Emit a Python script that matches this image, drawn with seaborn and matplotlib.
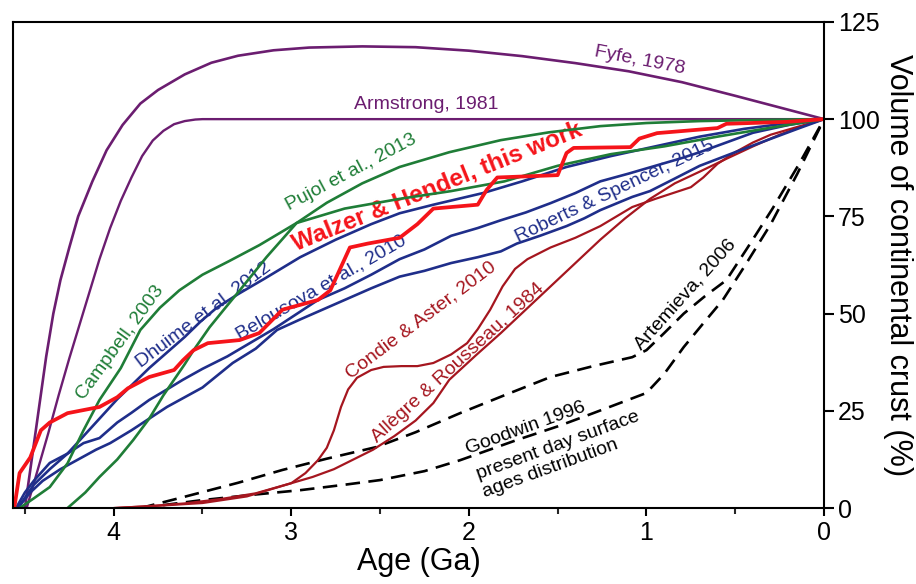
import matplotlib
matplotlib.use("Agg")
import matplotlib.pyplot as plt
from matplotlib.ticker import MultipleLocator
import seaborn as sns

# ---------------- data (age in Ga, volume in % of present crust) ----------------
fyfe_age = [4.50, 4.46, 4.42, 4.38, 4.34, 4.30, 4.25, 4.20, 4.12, 4.04, 3.95, 3.85, 3.75, 3.60,
            3.45, 3.30, 3.10, 2.90, 2.60, 2.30, 2.00, 1.70, 1.40, 1.10, 0.80, 0.50, 0.25, 0.0]
fyfe_vol = [0, 13, 26, 39, 50, 58.6, 67, 75, 84, 92, 98.5, 104, 107.5, 111.5,
            114.5, 116.3, 117.7, 118.4, 118.7, 118.5, 117.6, 116.2, 114.4, 112.3, 109.5, 106, 103, 100]

armstrong_age = [4.49, 4.43, 4.37, 4.31, 4.25, 4.20, 4.14, 4.08, 4.02, 3.96, 3.90, 3.84, 3.78,
                 3.72, 3.66, 3.60, 3.54, 3.50, 0.0]
armstrong_vol = [0, 9.5, 19, 29, 38.5, 46, 55, 64, 72, 79, 85, 90.5, 94.5,
                 97, 98.7, 99.5, 99.9, 100, 100]

campbell_age = [4.53, 4.45, 4.36, 4.26, 4.17, 4.08, 3.96, 3.85, 3.74, 3.63, 3.50, 3.35, 3.18,
                2.97, 2.70, 2.39, 2.10, 1.80, 1.50, 1.20, 0.90, 0.60, 0.30, 0.0]
campbell_vol = [0, 2.5, 5.4, 11.5, 20, 27.8, 36, 45.8, 51.5, 56, 60, 63.5, 67.6,
                73.3, 77, 79.5, 81.5, 84, 88, 91, 93, 95.5, 97.8, 100]

pujol_age = [4.26, 4.16, 4.08, 3.98, 3.89, 3.80, 3.72, 3.66, 3.60, 3.55, 3.46, 3.38, 3.29,
             3.14, 2.97, 2.80, 2.60, 2.39, 2.11, 1.82, 1.55, 1.26, 1.00, 0.70, 0.35, 0.0]
pujol_vol = [0, 4, 8, 12.5, 17.5, 23, 29, 33, 37, 40.6, 46.5, 51, 56,
             64.5, 73.3, 78.5, 83.5, 87.7, 91.5, 94.6, 96.6, 98.2, 99, 99.5, 99.8, 100]

dhuime_age = [4.54, 4.45, 4.36, 4.26, 4.17, 4.08, 3.98, 3.89, 3.80, 3.70, 3.60, 3.51, 3.42,
              3.30, 3.15, 2.95, 2.75, 2.55, 2.39, 2.20, 1.92, 1.70, 1.45, 1.20, 0.95, 0.70,
              0.45, 0.20, 0.0]
dhuime_vol = [0, 6, 10, 14, 18.5, 23, 28, 32, 36, 40, 44, 48, 51.5,
              55, 59, 64.5, 69, 73, 75.8, 78, 81, 84, 87.7, 90.5, 93, 95.5,
              97.5, 99, 100]

belousova_age = [4.55, 4.50, 4.45, 4.36, 4.26, 4.17, 4.08, 3.98, 3.90, 3.80, 3.70, 3.61, 3.50,
                 3.36, 3.23, 3.10, 3.00, 2.85, 2.70, 2.55, 2.39, 2.25, 2.10, 1.95, 1.82, 1.68,
                 1.54, 1.40, 1.26, 1.10, 0.95, 0.80, 0.70, 0.55, 0.40, 0.20, 0.0]
belousova_vol = [0, 4, 7, 11.6, 14, 16.7, 18, 22, 24.5, 27.8, 30.5, 33, 35.8,
                 39, 42.5, 46, 49, 53.5, 56.5, 60, 64, 66.5, 70, 72, 74, 76,
                 78.4, 81, 84, 86, 88, 90, 91.5, 94, 96.5, 98.5, 100]

roberts_age = [4.54, 4.47, 4.40, 4.30, 4.20, 4.10, 4.02, 3.90, 3.80, 3.70, 3.60, 3.50, 3.33,
               3.20, 3.08, 2.95, 2.85, 2.70, 2.55, 2.39, 2.25, 2.10, 1.95, 1.82, 1.73, 1.60,
               1.45, 1.35, 1.26, 1.08, 0.98, 0.85, 0.70, 0.50, 0.32, 0.15, 0.0]
roberts_vol = [0, 4, 7, 10, 12.5, 15, 16.7, 20, 23, 26, 28.5, 31, 37.3,
               41, 45.8, 48.5, 50.5, 53.5, 56.5, 59.5, 61, 63, 64.5, 66, 68, 70,
               72.5, 74.5, 76.6, 80, 81.5, 84.5, 88, 91.5, 94.6, 97.5, 100]

condie_age = [4.00, 3.80, 3.60, 3.40, 3.20, 3.00, 2.92, 2.85, 2.80, 2.76, 2.72, 2.68, 2.63,
              2.55, 2.48, 2.38, 2.29, 2.20, 2.10, 2.01, 1.95, 1.88, 1.81, 1.74, 1.67, 1.54,
              1.40, 1.26, 1.08, 0.95, 0.85, 0.75, 0.68, 0.60, 0.50, 0.40, 0.30, 0.15, 0.0]
condie_vol = [0, 0.5, 1.2, 2.3, 3.8, 6.4, 9, 12.3, 15.5, 20, 26, 30.5, 33.5,
              35.5, 36.3, 36.5, 36.5, 37.3, 39.5, 42.4, 46, 51, 57, 61.5, 64, 67,
              69.5, 72.5, 77.4, 79.5, 81, 82.5, 85, 88.5, 91.5, 94, 96, 98, 100]

allegre_age = [4.00, 3.75, 3.50, 3.25, 3.00, 2.88, 2.76, 2.65, 2.54, 2.42, 2.30, 2.20, 2.11,
               1.96, 1.82, 1.68, 1.54, 1.40, 1.26, 1.12, 0.98, 0.84, 0.70, 0.55, 0.40, 0.25,
               0.10, 0.0]
allegre_vol = [0, 0.6, 1.3, 3, 6.4, 8, 10, 12.5, 15, 18.5, 22.5, 27, 33,
               39.3, 45, 51, 57, 63, 69, 74.5, 79.5, 83.5, 86.5, 89.8, 93, 96,
               98.5, 100]

artemieva_age = [3.85, 3.61, 3.30, 3.05, 2.80, 2.52, 2.30, 2.05, 1.80, 1.54, 1.30, 1.08, 1.00,
                 0.90, 0.79, 0.67, 0.55, 0.43, 0.29, 0.14, 0.0]
artemieva_vol = [0, 2.8, 6.5, 9.8, 12.7, 15.7, 19.5, 24.4, 29, 33.7, 36.5, 38.8, 40.6,
                 45, 50, 54.5, 58.6, 67, 77, 88.5, 100]

goodwin_age = [3.85, 3.51, 3.20, 2.95, 2.70, 2.50, 2.25, 2.05, 1.73, 1.50, 1.30, 1.15, 1.00,
               0.90, 0.79, 0.68, 0.57, 0.45, 0.30, 0.15, 0.0]
goodwin_vol = [0, 2, 3.5, 4.6, 6, 7.2, 9.5, 12.3, 17.5, 21, 24.4, 27, 29.6,
               34.5, 41.4, 47.5, 53.5, 62, 73, 86, 100]

walzer_age = [4.56, 4.53, 4.47, 4.41, 4.36, 4.26, 4.08, 3.98, 3.92, 3.80, 3.66, 3.61, 3.55,
              3.47, 3.29, 3.18, 3.05, 2.85, 2.78, 2.72, 2.67, 2.57, 2.39, 2.29, 2.20, 1.95,
              1.90, 1.84, 1.50, 1.45, 1.41, 1.09, 1.04, 0.94, 0.60, 0.55, 0.21, 0.0]
walzer_vol = [0, 9, 13, 20, 22, 24.4, 26, 28.5, 30.8, 33.7, 35.5, 38, 40.6,
              42.4, 43.2, 45, 51, 53.5, 56, 62, 67, 68, 69.5, 73, 77, 78,
              81.8, 85, 85.6, 91.3, 92.6, 92.8, 95, 96.4, 97.7, 98.8, 99.3, 100]

# label texts
lbl_fyfe = "Fyfe, 1978"
lbl_armstrong = "Armstrong, 1981"
lbl_pujol = "Pujol et al., 2013"
lbl_walzer = "Walzer & Hendel, this work"
lbl_campbell = "Campbell, 2003"
lbl_dhuime = "Dhuime et al. 2012"
lbl_belousova = "Belousova et al., 2010"
lbl_roberts = "Roberts & Spencer, 2015"
lbl_condie = "Condie & Aster, 2010"
lbl_allegre = "Allègre & Rousseau, 1984"
lbl_artemieva = "Artemieva, 2006"
lbl_goodwin = ["Goodwin 1996", "present day surface", "ages distribution"]

x_ticks = [4, 3, 2, 1, 0]
y_ticks = [0, 25, 50, 75, 100, 125]

# ---------------- style ----------------
sns.set_theme(style="white")
plt.rcParams["font.family"] = ["Liberation Sans", "DejaVu Sans"]

PURPLE = "#6b1d70"
GREEN = "#1f7d37"
NAVY = "#1f2e8a"
RED = "#f5141a"
DARKRED = "#a5161f"

fig = plt.figure(figsize=(9.16, 5.84), dpi=100)
ax = fig.add_axes([0.0142, 0.130, 0.8854, 0.8325])

def line(a, v, color, lw, **kw):
    sns.lineplot(x=a, y=v, ax=ax, color=color, linewidth=lw, sort=False,
                 estimator=None, **kw)

dash = (0, (5.5, 3.2))
line(goodwin_age, goodwin_vol, "black", 1.9, linestyle=dash)
line(artemieva_age, artemieva_vol, "black", 1.9, linestyle=dash)
line(fyfe_age, fyfe_vol, PURPLE, 1.9)
line(armstrong_age, armstrong_vol, PURPLE, 1.7)
line(allegre_age, allegre_vol, DARKRED, 1.6)
line(condie_age, condie_vol, DARKRED, 1.6)
line(roberts_age, roberts_vol, NAVY, 1.9)
line(belousova_age, belousova_vol, NAVY, 1.9)
line(dhuime_age, dhuime_vol, NAVY, 1.9)
line(campbell_age, campbell_vol, GREEN, 1.9)
line(pujol_age, pujol_vol, GREEN, 1.9)
line(walzer_age, walzer_vol, RED, 2.7)

ax.set_xlim(4.567, 0)
ax.set_ylim(0, 125)

FS = 14
def label(age, vol, txt, color, rot, fs=FS, weight="normal"):
    ax.text(age, vol, txt, color=color, rotation=rot, fontsize=fs,
            fontweight=weight, ha="center", va="center",
            rotation_mode="anchor", zorder=1)

label(1.04, 115.2, lbl_fyfe, PURPLE, -11)
label(2.24, 103.7, lbl_armstrong, PURPLE, 0)
label(2.66, 86.2, lbl_pujol, GREEN, 28)
label(2.18, 82.6, lbl_walzer, RED, 22, fs=17.5, weight="bold")
label(3.96, 42.4, lbl_campbell, GREEN, 54)
label(3.49, 49.6, lbl_dhuime, NAVY, 37)
label(2.83, 56.8, lbl_belousova, NAVY, 30)
label(1.18, 81.3, lbl_roberts, NAVY, 25.5)
label(2.27, 48.3, lbl_condie, DARKRED, 37)
label(2.06, 37.3, lbl_allegre, DARKRED, 42.5)
label(0.78, 54.8, lbl_artemieva, "black", 48)
label(1.68, 20.6, lbl_goodwin[0], "black", 20)
label(1.50, 16.0, lbl_goodwin[1], "black", 20)
label(1.54, 10.2, lbl_goodwin[2], "black", 20)

# axes / ticks
for s in ax.spines.values():
    s.set_visible(True)
    s.set_color("black")
    s.set_linewidth(1.5)

ax.set_xticks(x_ticks)
ax.xaxis.set_minor_locator(MultipleLocator(0.5))
ax.set_yticks(y_ticks)
ax.yaxis.tick_right()
ax.yaxis.set_label_position("right")
ax.tick_params(axis="x", which="major", bottom=True, top=False, direction="out",
               length=6, width=1.5, labelsize=18, pad=3, colors="black")
ax.tick_params(axis="x", which="minor", bottom=True, top=False, direction="out",
               length=4, width=1.5)
ax.tick_params(axis="y", which="major", right=True, left=False, labelright=True,
               labelleft=False, direction="out", length=7, width=1.5,
               labelsize=18, pad=3, colors="black")
ax.set_xlabel("Age (Ga)", fontsize=22, labelpad=2, color="black")
ax.set_ylabel("Volume of continental crust (%)", fontsize=22, rotation=270,
              labelpad=24, color="black")
ax.grid(False)

fig.savefig("out.png", dpi=100)
